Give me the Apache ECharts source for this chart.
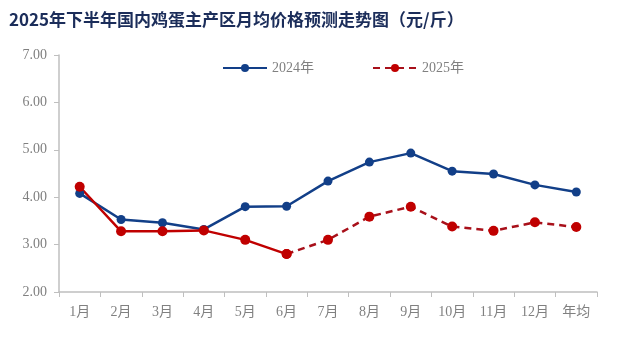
<!DOCTYPE html>
<html>
<head>
<meta charset="utf-8">
<script src="https://cdn.jsdelivr.net/npm/echarts@6/dist/echarts.min.js"></script>
<style>
  html, body { margin: 0; padding: 0; background: #fff; }
  #chart { width: 626px; height: 354px; }
</style>
</head>
<body>
<div id="chart"></div>
<script>
// 数据
var months = ['1月', '2月', '3月', '4月', '5月', '6月', '7月', '8月', '9月', '10月', '11月', '12月', '年均']
var price2024 = [4.08, 3.53, 3.46, 3.32, 3.80, 3.81, 4.34, 4.74, 4.93, 4.55, 4.49, 4.26, 4.11]
var price2025Actual = [4.22, 3.28, 3.28, 3.30, 3.10, 2.80, null, null, null, null, null, null, null]
var price2025Forecast = [null, null, null, null, null, 2.80, 3.10, 3.59, 3.80, 3.38, 3.29, 3.47, 3.37]

var labelFont = "'Liberation Serif', 'Noto Sans CJK SC', serif"
var axisGray = '#bfbfbf'

var chart = echarts.init(document.getElementById('chart'))
chart.setOption({
  backgroundColor: '#ffffff',
  animation: false,
  title: {
    text: '2025年下半年国内鸡蛋主产区月均价格预测走势图（元/斤）',
    left: 4,
    top: 6,
    textStyle: {
      fontFamily: "'Noto Sans CJK SC', sans-serif",
      fontSize: 17,
      fontWeight: 'bold',
      color: '#1b2d5a'
    }
  },
  legend: {
    data: ['2024年', '2025年'],
    top: 56,
    left: 217,
    itemGap: 58,
    itemWidth: 44,
    itemHeight: 10,
    textStyle: { fontFamily: labelFont, fontSize: 14, color: '#808080' }
  },
  grid: { left: 59, right: 29, top: 55, bottom: 62, containLabel: false },
  xAxis: {
    type: 'category',
    data: months,
    boundaryGap: true,
    axisLine: { lineStyle: { color: axisGray, width: 1.5 } },
    axisTick: { show: true, length: 5, lineStyle: { color: axisGray } },
    axisLabel: { margin: 13, fontFamily: labelFont, fontSize: 14, color: '#808080' }
  },
  yAxis: {
    type: 'value',
    min: 2,
    max: 7,
    interval: 1,
    axisLine: { show: true, lineStyle: { color: axisGray, width: 1.5 } },
    axisTick: { show: true, length: 5, lineStyle: { color: axisGray } },
    splitLine: { show: false },
    axisLabel: {
      margin: 12,
      fontFamily: labelFont,
      fontSize: 14,
      color: '#808080',
      formatter: function (v) { return v.toFixed(2) }
    }
  },
  series: [
    {
      name: '2024年',
      type: 'line',
      data: price2024,
      symbol: 'circle',
      symbolSize: 9,
      lineStyle: { color: '#123f88', width: 2.5 },
      itemStyle: { color: '#123f88' }
    },
    {
      name: '2025年实际',
      type: 'line',
      data: price2025Actual,
      symbol: 'circle',
      symbolSize: 10,
      lineStyle: { color: '#c00000', width: 2.5 },
      itemStyle: { color: '#c00000' }
    },
    {
      name: '2025年',
      type: 'line',
      data: price2025Forecast,
      symbol: 'circle',
      symbolSize: 10,
      lineStyle: { color: '#a8101a', width: 2.5, type: [7, 5] },
      itemStyle: { color: '#c00000' }
    }
  ]
})
</script>
</body>
</html>
